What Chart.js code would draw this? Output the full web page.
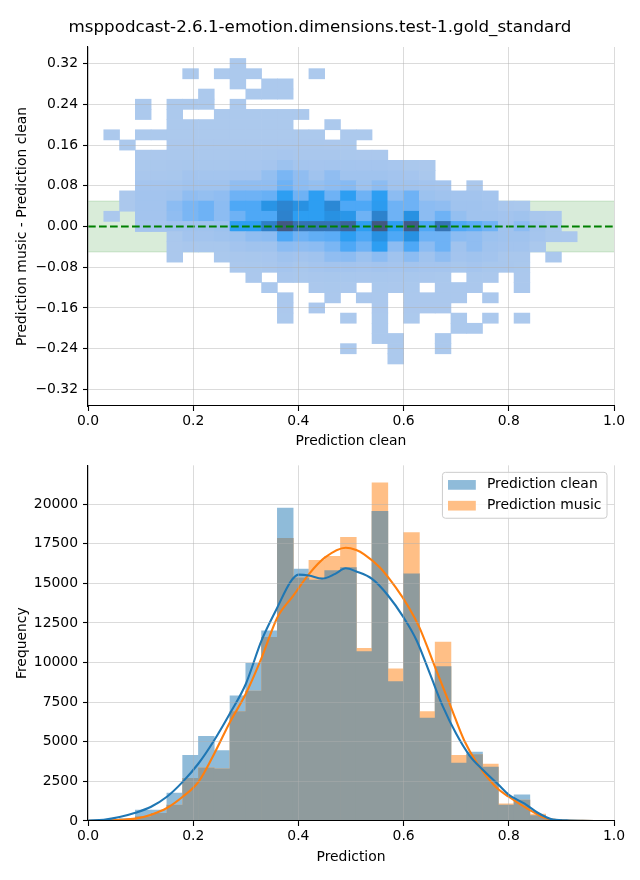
<!DOCTYPE html>
<html><head><meta charset="utf-8">
<script src="https://cdn.jsdelivr.net/npm/chart.js@4.4.0/dist/chart.umd.min.js"></script>
<style>
html,body{margin:0;padding:0;background:#fff;}
#wrap{position:relative;width:640px;height:880px;overflow:hidden;background:#fff;}
#title{position:absolute;left:0;top:15px;width:640px;text-align:center;font-family:'DejaVu Sans',sans-serif;font-size:16.7px;line-height:22px;color:#000;white-space:nowrap;}
#c1{position:absolute;left:0;top:0;}
#c2{position:absolute;left:0;top:452px;}
</style></head><body>
<div id="wrap">
<canvas id="c1" width="640" height="452"></canvas>
<canvas id="c2" width="640" height="428"></canvas>
<div id="title">msppodcast-2.6.1-emotion.dimensions.test-1.gold_standard</div>
</div>
<script>
// ---------------- DATA ----------------
const xTicks = [0, 0.2, 0.4, 0.6, 0.8, 1.0];
const yTicksTop = [-0.32, -0.24, -0.16, -0.08, 0, 0.08, 0.16, 0.24, 0.32];
const yTicksBottom = [0, 2500, 5000, 7500, 10000, 12500, 15000, 17500, 20000];
const bandLimits = [-0.05, 0.05];
const refLineY = 0;

const heatXCenters = [0.015,0.045,0.075,0.105,0.135,0.165,0.195,0.225,0.255,0.285,0.315,0.345,0.375,0.405,0.435,0.465,0.495,0.525,0.555,0.585,0.615,0.645,0.675,0.705,0.735,0.765,0.795,0.825,0.855,0.885,0.915];
const heatYCenters = [0.32,0.30,0.28,0.26,0.24,0.22,0.20,0.18,0.16,0.14,0.12,0.10,0.08,0.06,0.04,0.02,0.00,-0.02,-0.04,-0.06,-0.08,-0.10,-0.12,-0.14,-0.16,-0.18,-0.20,-0.22,-0.24,-0.26];
const heatCounts = [
 [0,0,0,0,0, 0,0,0,0,40, 0,0,0,0,0, 0,0,0,0,0, 0,0,0,0,0, 0,0,0,0,0, 0],
 [0,0,0,0,0, 0,40,0,40,40, 40,0,0,0,40, 0,0,0,0,0, 0,0,0,0,0, 0,0,0,0,0, 0],
 [0,0,0,0,0, 0,0,0,0,40, 0,40,40,0,0, 0,0,0,0,0, 0,0,0,0,0, 0,0,0,0,0, 0],
 [0,0,0,0,0, 0,0,40,0,0, 40,40,40,0,0, 0,0,0,0,0, 0,0,0,0,0, 0,0,0,0,0, 0],
 [0,0,0,40,0, 40,40,40,0,40, 0,0,0,0,0, 0,0,0,0,0, 0,0,0,0,0, 0,0,0,0,0, 0],
 [0,0,0,40,0, 40,0,0,40,40, 40,40,40,40,0, 0,0,0,0,0, 0,0,0,0,0, 0,0,0,0,0, 0],
 [0,0,0,0,0, 40,40,40,40,40, 40,40,40,0,0, 40,0,0,0,0, 0,0,0,0,0, 0,0,0,0,0, 0],
 [0,40,0,40,40, 40,40,40,40,40, 40,40,40,40,40, 0,40,40,0,0, 0,0,0,0,0, 0,0,0,0,0, 0],
 [0,0,40,0,0, 50,50,60,60,60, 60,60,80,60,60, 50,40,0,0,0, 0,0,0,0,0, 0,0,0,0,0, 0],
 [0,0,0,60,60, 100,100,120,120,150, 150,200,250,150,150, 150,120,80,60,0, 0,0,0,0,0, 0,0,0,0,0, 0],
 [0,0,0,100,100, 150,200,200,200,250, 250,300,600,350,300, 350,350,300,300,250, 100,60,0,0,0, 0,0,0,0,0, 0],
 [0,0,0,150,150, 200,400,350,350,400, 400,800,1300,900,500, 900,500,500,500,400, 300,100,0,0,0, 0,0,0,0,0, 0],
 [0,0,0,300,300, 350,500,500,500,900, 900,900,1500,1000,800, 1000,1100,600,1000,500, 500,400,300,0,60, 0,0,0,0,0, 0],
 [0,0,60,400,400, 500,900,800,900,1500, 1500,1600,2500,1500,2500, 1500,2500,1500,2500,1000, 1500,600,500,400,400, 300,0,0,0,0, 0],
 [0,0,60,400,400, 1000,1300,1500,1000,2000, 2000,2900,3400,3000,2500, 3300,2000,2000,2600,1500, 1500,1000,900,500,500, 400,150,100,0,0, 0],
 [0,60,0,400,400, 900,1300,1500,1000,1500, 2000,2000,3500,2500,2500, 3000,2800,1500,3500,1500, 3000,1000,1500,800,500, 500,400,500,150,60, 0],
 [0,0,0,300,300, 500,500,500,600,2500, 2500,3600,5000,4000,4000, 4000,4500,2500,5000,2500, 4900,2000,4000,2000,1800, 1500,500,1000,400,100, 0],
 [0,0,0,0,0, 100,400,400,500,600, 900,1000,2000,1500,1700, 1800,2500,2000,3000,2000, 3000,1500,1500,1000,900, 600,500,500,300,100, 60],
 [0,0,0,0,0, 60,150,200,200,400, 500,500,1000,900,1000, 1300,2000,1500,2500,1000, 2000,1000,1500,500,900, 500,400,400,100,0, 0],
 [0,0,0,0,0, 60,0,0,100,150, 200,250,500,400,500, 900,1000,600,1000,500, 1000,500,900,400,500, 400,150,150,0,60, 0],
 [0,0,0,0,0, 0,0,0,0,60, 100,150,300,200,300, 400,400,300,400,300, 400,300,300,200,300, 200,150,100,0,0, 0],
 [0,0,0,0,0, 0,0,0,0,0, 60,0,150,100,150, 200,200,150,200,150, 200,150,100,0,100, 60,0,60,0,0, 0],
 [0,0,0,0,0, 0,0,0,0,0, 0,60,0,0,60, 100,60,0,100,60, 100,0,60,60,60, 0,0,60,0,0, 0],
 [0,0,0,0,0, 0,0,0,0,0, 0,0,60,0,0, 60,0,60,60,0, 60,60,60,60,0, 60,0,0,0,0, 0],
 [0,0,0,0,0, 0,0,0,0,0, 0,0,50,0,50, 0,0,0,50,0, 50,50,50,0,0, 0,0,0,0,0, 0],
 [0,0,0,0,0, 0,0,0,0,0, 0,0,40,0,0, 0,40,0,40,0, 40,0,0,40,0, 40,0,40,0,0, 0],
 [0,0,0,0,0, 0,0,0,0,0, 0,0,0,0,0, 0,0,0,40,0, 0,0,0,40,40, 0,0,0,0,0, 0],
 [0,0,0,0,0, 0,0,0,0,0, 0,0,0,0,0, 0,0,0,40,40, 0,0,40,0,0, 0,0,0,0,0, 0],
 [0,0,0,0,0, 0,0,0,0,0, 0,0,0,0,0, 0,40,0,0,40, 0,0,40,0,0, 0,0,0,0,0, 0],
 [0,0,0,0,0, 0,0,0,0,0, 0,0,0,0,0, 0,0,0,0,40, 0,0,0,0,0, 0,0,0,0,0, 0]
];

const histBinCenters = [0.015,0.045,0.075,0.105,0.135,0.165,0.195,0.225,0.255,0.285,0.315,0.345,0.375,0.405,0.435,0.465,0.495,0.525,0.555,0.585,0.615,0.645,0.675,0.705,0.735,0.765,0.795,0.825,0.855,0.885,0.915,0.945,0.975];
const cleanCounts = [20,60,150,690,690,1760,4150,5350,4450,7900,9950,12000,19750,15900,15200,15800,16000,10700,19550,8800,15600,6500,9750,3650,4350,3400,1010,1650,340,100,30,10,5];
const musicCounts = [5,20,60,280,480,1000,2700,3350,3300,6900,8200,11600,17850,15350,16450,16700,17900,10900,21350,9600,18200,6900,11300,4150,4200,3600,1090,1320,440,100,30,10,5];

const kdeCleanX = [0.0,0.03,0.06,0.09,0.12,0.15,0.18,0.21,0.24,0.27,0.30,0.33,0.36,0.385,0.40,0.42,0.445,0.47,0.49,0.51,0.54,0.57,0.60,0.625,0.65,0.675,0.70,0.725,0.75,0.78,0.80,0.83,0.855,0.88,0.91,0.94,0.975];
const kdeCleanY = [30,80,250,520,900,1530,2470,3630,5100,6800,8650,11400,13480,15100,15550,15500,15300,15600,15950,15750,15280,14250,12850,11380,9300,7200,5500,4150,3250,2300,1650,1100,520,130,40,10,0];
const kdeMusicX = [0.0,0.03,0.06,0.09,0.12,0.15,0.18,0.21,0.24,0.27,0.30,0.33,0.36,0.39,0.42,0.45,0.49,0.51,0.525,0.555,0.585,0.61,0.63,0.65,0.66,0.69,0.715,0.74,0.775,0.80,0.84,0.87,0.90,0.94,0.975];
const kdeMusicY = [10,30,70,150,400,820,1530,2470,4250,6250,8030,10300,12850,14210,15580,16620,17250,17100,16830,16000,14740,13480,12220,10560,9700,7190,5100,3630,2160,1530,690,170,40,10,0];

// ---------------- STYLE ----------------
const FS = 13.9;
const FONT = "'DejaVu Sans', sans-serif";
const gridColor = 'rgba(176,176,176,0.45)';
const cellHalfH = 0.01;
const xMin = 0, xMax = 1;
const cleanFill = 'rgb(143,187,217)';   // C0 at alpha 0.5 on white
const musicFill = 'rgb(255,191,134)';   // C1 at alpha 0.5 on white
const overlapFill = 'rgb(143,155,157)'; // C0 alpha 0.5 over C1 alpha 0.5
const cmapStops = [[173,201,237],[160,195,238],[140,188,242],[110,178,245],[78,168,246],[45,158,242],[40,145,226],[45,130,205],[52,115,180],[60,100,155],[66,88,130]];
const heatMax = Math.max(...heatCounts.flat());
function cellColor(c){
  const t = Math.min(1, c/heatMax)*(cmapStops.length-1);
  const i = Math.floor(t), f = t - i;
  const a = cmapStops[i], b = cmapStops[Math.min(i+1, cmapStops.length-1)];
  return 'rgb(' + a.map((v,j)=>Math.round(v+(b[j]-v)*f)).join(',') + ')';
}

Chart.defaults.font.family = FONT;
Chart.defaults.font.size = FS;
Chart.defaults.color = '#000';

function gridOpts(color){ return {color:color || gridColor, lineWidth:1, z:1, drawTicks:true, tickLength:5, tickColor:'#000', tickWidth:1.1, offset:false}; }
const borderOpts = {display:true, color:'#000', width:1.1, z:2};

// ---------------- TOP CHART ----------------
const heatData = [], heatColors = [];
heatYCenters.forEach((yc, r) => heatXCenters.forEach((xc, k) => {
  const c = heatCounts[r][k];
  if (c > 0) { heatData.push({x: xc, y: [yc - cellHalfH, yc + cellHalfH]}); heatColors.push(cellColor(c)); }
}));

new Chart(document.getElementById('c1'), {
  type: 'bar',
  data: { datasets: [
    {type:'line', label:'band hi', data:[{x:xMin,y:bandLimits[1]},{x:xMax,y:bandLimits[1]}], borderColor:'rgba(0,128,0,0.15)', borderWidth:1, pointRadius:0, fill:false, order:3},
    {type:'line', label:'band lo', data:[{x:xMin,y:bandLimits[0]},{x:xMax,y:bandLimits[0]}], borderColor:'rgba(0,128,0,0.15)', borderWidth:1, pointRadius:0, fill:'-1', backgroundColor:'rgba(0,128,0,0.15)', order:3},
    {type:'bar', label:'cells', data:heatData, backgroundColor:heatColors, borderWidth:0, barPercentage:1, categoryPercentage:1, grouped:false, order:2},
    {type:'line', label:'zero', data:[{x:xMin,y:refLineY},{x:xMax,y:refLineY}], borderColor:'#008000', borderWidth:2.1, borderDash:[7.7,3.3], pointRadius:0, fill:false, order:1}
  ]},
  options: {
    responsive:false, devicePixelRatio:1, animation:false,
    layout:{padding:{top:47, right:26, left:0, bottom:0}},
    plugins:{legend:{display:false}, tooltip:{enabled:false}},
    scales:{
      x:{type:'linear', min:xMin, max:xMax, offset:false,
        afterBuildTicks:a=>{a.ticks = xTicks.map(v=>({value:v}));},
        afterFit:s=>{s.height = 46;},
        grid:gridOpts(), border:borderOpts,
        ticks:{padding:2, maxRotation:0, autoSkip:false, callback:v=>Number(v).toFixed(1)},
        title:{display:true, text:'Prediction clean', padding:{top:0,bottom:2.7}}
      },
      y:{type:'linear', min:-0.3525, max:0.3525,
        afterBuildTicks:a=>{a.ticks = yTicksTop.map(v=>({value:v}));},
        afterFit:s=>{s.width = 88;},
        grid:gridOpts(ctx => (ctx.tick && Math.abs(ctx.tick.value - refLineY) < 1e-9) ? 'rgba(0,0,0,0)' : gridColor),
        border:borderOpts,
        ticks:{padding:5, autoSkip:false, callback:v=>{const s=Math.abs(v).toFixed(2); return (v < -1e-9 ? '\u2212' : '') + s;}},
        title:{display:true, text:'Prediction music - Prediction clean', padding:{top:13.7,bottom:0}}
      }
    }
  }
});

// ---------------- BOTTOM CHART ----------------
const innerLegend = {
  id:'innerLegend',
  afterDraw(chart){
    const {ctx, chartArea} = chart;
    const items = chart.data.datasets.filter(d => d.inLegend);
    ctx.save();
    ctx.font = FS + 'px ' + FONT;
    const pad = 5.6, handleW = 27.8, handleH = 9.7, gap = 11.1, rowH = FS, rowGap = 6.9;
    const textW = Math.max(...items.map(d => ctx.measureText(d.label).width));
    const w = pad + handleW + gap + textW + pad;
    const h = pad*2 + rowH*items.length + rowGap*(items.length-1);
    const x0 = chartArea.right - 7 - w, y0 = chartArea.top + 7;
    const r = 3;
    ctx.beginPath();
    ctx.moveTo(x0+r, y0); ctx.lineTo(x0+w-r, y0); ctx.arcTo(x0+w, y0, x0+w, y0+r, r);
    ctx.lineTo(x0+w, y0+h-r); ctx.arcTo(x0+w, y0+h, x0+w-r, y0+h, r);
    ctx.lineTo(x0+r, y0+h); ctx.arcTo(x0, y0+h, x0, y0+h-r, r);
    ctx.lineTo(x0, y0+r); ctx.arcTo(x0, y0, x0+r, y0, r); ctx.closePath();
    ctx.fillStyle = 'rgba(255,255,255,0.8)'; ctx.fill();
    ctx.strokeStyle = '#cccccc'; ctx.lineWidth = 1; ctx.stroke();
    items.forEach((d, i) => {
      const cy = y0 + pad + rowH/2 + i*(rowH + rowGap);
      ctx.fillStyle = d.backgroundColor;
      ctx.fillRect(x0 + pad, cy - handleH/2, handleW, handleH);
      ctx.fillStyle = '#000'; ctx.textBaseline = 'middle'; ctx.textAlign = 'left';
      ctx.fillText(d.label, x0 + pad + handleW + gap, cy);
    });
    ctx.restore();
  }
};

const barCommon = {type:'bar', borderWidth:0, barPercentage:1, categoryPercentage:1, grouped:false};
new Chart(document.getElementById('c2'), {
  type:'bar',
  data:{datasets:[
    Object.assign({label:'Prediction clean', inLegend:true, data:histBinCenters.map((x,i)=>({x, y:cleanCounts[i]})), backgroundColor:cleanFill, order:5}, barCommon),
    Object.assign({label:'Prediction music', inLegend:true, data:histBinCenters.map((x,i)=>({x, y:musicCounts[i]})), backgroundColor:musicFill, order:4}, barCommon),
    Object.assign({label:'overlap', data:histBinCenters.map((x,i)=>({x, y:Math.min(cleanCounts[i], musicCounts[i])})), backgroundColor:overlapFill, order:3}, barCommon),
    {type:'line', label:'kde clean', data:kdeCleanX.map((x,i)=>({x, y:kdeCleanY[i]})), borderColor:'#1f77b4', borderWidth:2.1, pointRadius:0, cubicInterpolationMode:'monotone', fill:false, order:1},
    {type:'line', label:'kde music', data:kdeMusicX.map((x,i)=>({x, y:kdeMusicY[i]})), borderColor:'#ff7f0e', borderWidth:2.1, pointRadius:0, cubicInterpolationMode:'monotone', fill:false, order:2}
  ]},
  options:{
    responsive:false, devicePixelRatio:1, animation:false,
    layout:{padding:{top:12, right:26, left:0, bottom:0}},
    plugins:{legend:{display:false}, tooltip:{enabled:false}},
    scales:{
      x:{type:'linear', min:xMin, max:xMax, offset:false,
        afterBuildTicks:a=>{a.ticks = xTicks.map(v=>({value:v}));},
        afterFit:s=>{s.height = 59;},
        grid:gridOpts(), border:borderOpts,
        ticks:{padding:2, maxRotation:0, autoSkip:false, callback:v=>Number(v).toFixed(1)},
        title:{display:true, text:'Prediction', padding:{top:0,bottom:14.7}}
      },
      y:{type:'linear', min:0, max:22450,
        afterBuildTicks:a=>{a.ticks = yTicksBottom.map(v=>({value:v}));},
        afterFit:s=>{s.width = 88;},
        grid:gridOpts(), border:borderOpts,
        ticks:{padding:5, autoSkip:false, callback:v=>String(v)},
        title:{display:true, text:'Frequency', padding:{top:13.7,bottom:0}}
      }
    }
  },
  plugins:[innerLegend]
});
</script>
</body></html>
